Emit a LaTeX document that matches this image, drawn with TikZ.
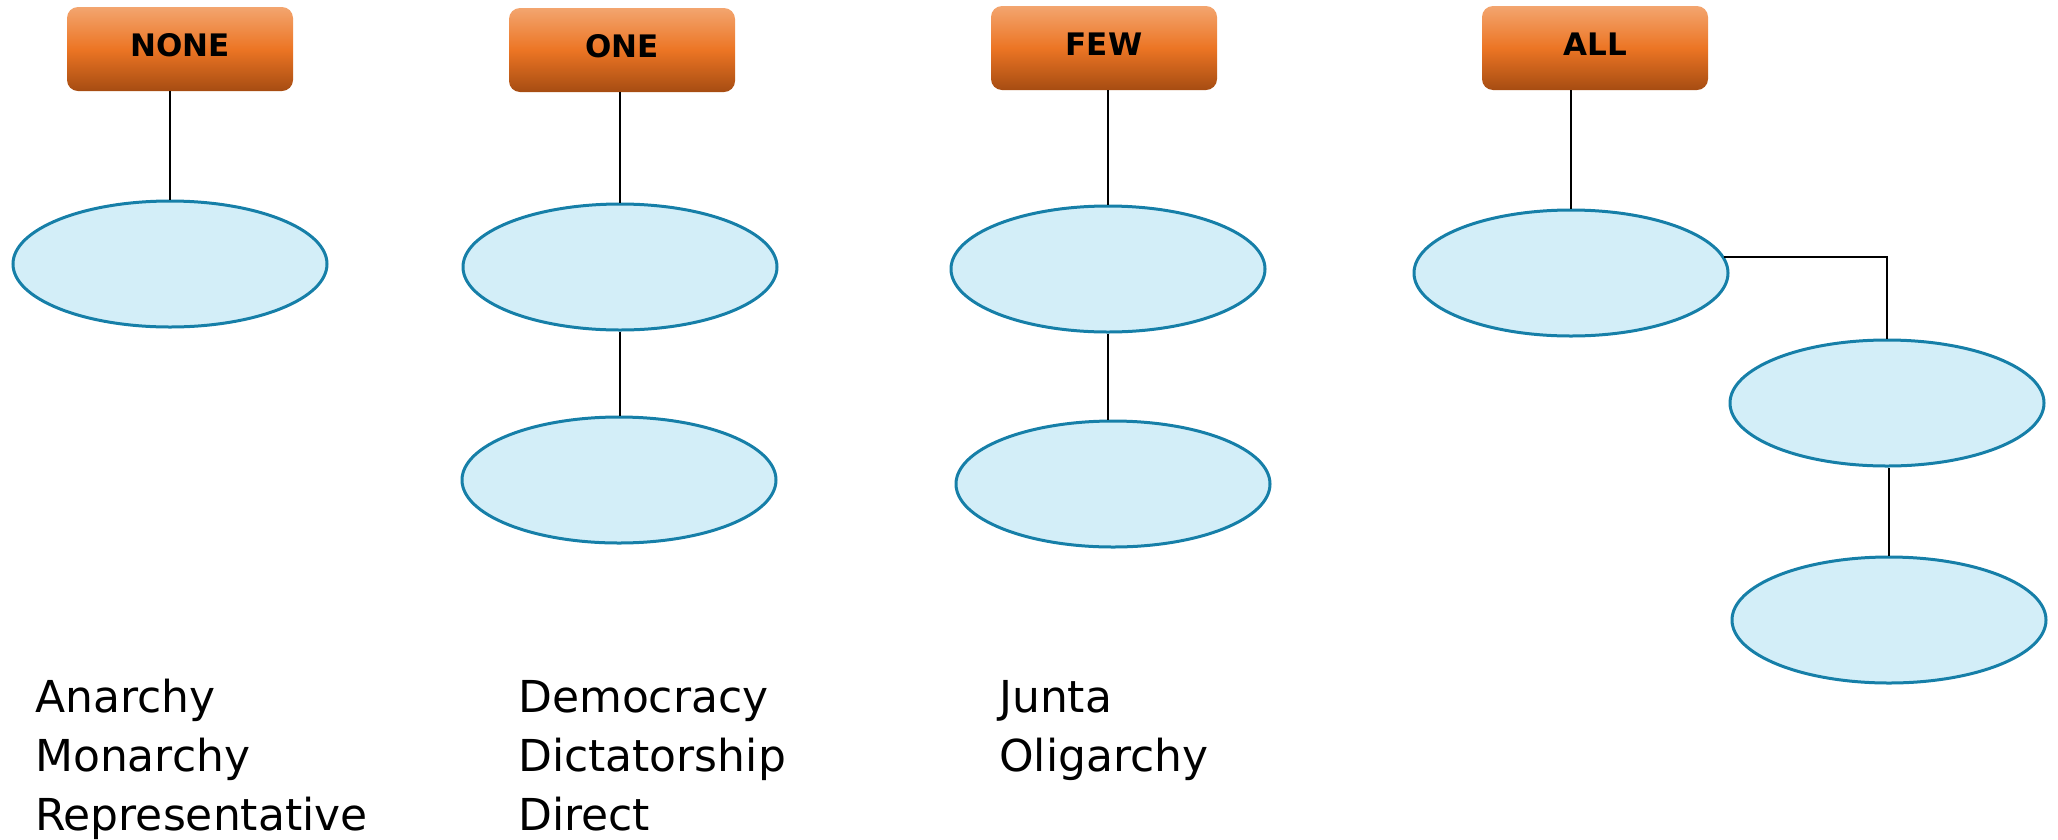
\documentclass[tikz,border=0pt]{standalone}
\usepackage{fontspec}
\setmainfont{DejaVu Sans}
\usetikzlibrary{shapes.geometric,calc}
\definecolor{boxtop}{HTML}{F3A56F}
\definecolor{boxmid}{HTML}{EC7524}
\definecolor{boxbot}{HTML}{A64C12}
\definecolor{ellfill}{HTML}{D3EEF8}
\definecolor{elldraw}{HTML}{167FA8}
\tikzset{
  hdr/.style={rectangle, rounded corners=11pt, minimum width=226pt, minimum height=84pt,
    top color=boxtop, bottom color=boxbot, middle color=boxmid, draw=none,
    font=\fontsize{31}{36}\selectfont\bfseries, text=black, inner sep=0pt},
  ell/.style={ellipse, draw=elldraw, fill=ellfill, line width=3pt,
    minimum width=314pt, minimum height=126pt, inner sep=0pt},
  conn/.style={draw=black, line width=2.4pt},
  item/.style={anchor=base west, inner sep=0pt, font=\fontsize{44}{50}\selectfont, text=black}
}
\begin{document}
\begin{tikzpicture}[x=1pt,y=-1pt]
\useasboundingbox (0,0) rectangle (2058,839);
% headers
\node[hdr] (none) at (180,49) {\raisebox{8pt}{NONE}};
\node[hdr] (one) at (622,50) {\raisebox{8pt}{ONE}};
\node[hdr] (few) at (1104,48) {\raisebox{8pt}{FEW}};
\node[hdr] (all) at (1595,48) {\raisebox{8pt}{ALL}};
% ellipses
\node[ell] (e1) at (170,264) {};
\node[ell] (e2) at (620,267) {};
\node[ell] (e3) at (619,480) {};
\node[ell] (e4) at (1108,269) {};
\node[ell] (e5) at (1113,484) {};
\node[ell] (e6) at (1571,273) {};
\node[ell] (e7) at (1887,403) {};
\node[ell] (e8) at (1889,620) {};
% connectors
\draw[conn] (e1.north) -- (e1.north |- none.south);
\draw[conn] (e2.north) -- (e2.north |- one.south);
\draw[conn] (e3.north -| e2.north) -- (e2.south);
\draw[conn] (e4.north) -- (e4.north |- few.south);
\draw[conn] (e5.north -| e4.north) -- (e4.south);
\draw[conn] (e6.north) -- (e6.north |- all.south);
\draw[conn] (e6.6) -| (e7.north);
\draw[conn] (e8.north) -- (e8.north |- e7.south);
% lists
\node[item] (t1) at (35,712) {Anarchy};
\node[item] (t2) at (35,771) {Monarchy};
\node[item] (t3) at (35,830) {Representative};
\node[item] (t4) at (518,712) {Democracy};
\node[item] (t5) at (518,771) {Dictatorship};
\node[item] (t6) at (518,830) {Direct};
\node[item] (t7) at (999,712) {Junta};
\node[item] (t8) at (999,771) {Oligarchy};
\end{tikzpicture}
\end{document}
